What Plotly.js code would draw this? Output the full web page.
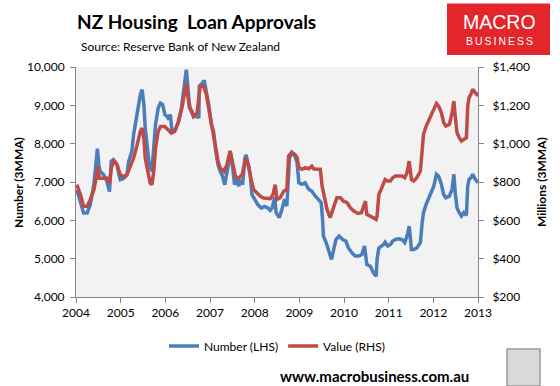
<!DOCTYPE html>
<html>
<head>
<meta charset="utf-8">
<script src="https://cdn.plot.ly/plotly-3.0.1.min.js"></script>
<style>html,body{margin:0;padding:0;background:#fff;}#chart{width:560px;height:386px;}</style>
</head>
<body>
<div id="chart"></div>
<script>
// ---- Data (decimal year) ----
const numberDates = [2004.02,2004.10,2004.17,2004.25,2004.32,2004.40,2004.45,2004.48,2004.51,2004.54,2004.62,2004.69,2004.75,2004.79,2004.84,2004.92,2004.96,2004.99,2005.07,2005.14,2005.18,2005.25,2005.29,2005.37,2005.44,2005.48,2005.52,2005.55,2005.59,2005.64,2005.70,2005.74,2005.78,2005.84,2005.89,2005.94,2005.99,2006.04,2006.08,2006.11,2006.15,2006.22,2006.30,2006.36,2006.41,2006.45,2006.47,2006.50,2006.54,2006.58,2006.63,2006.71,2006.75,2006.76,2006.80,2006.87,2006.92,2006.97,2007.03,2007.08,2007.13,2007.18,2007.23,2007.28,2007.33,2007.36,2007.42,2007.46,2007.51,2007.55,2007.60,2007.64,2007.69,2007.73,2007.78,2007.81,2007.85,2007.90,2007.94,2008.00,2008.07,2008.15,2008.22,2008.30,2008.35,2008.39,2008.45,2008.48,2008.55,2008.61,2008.67,2008.72,2008.75,2008.78,2008.84,2008.90,2008.95,2008.99,2009.06,2009.13,2009.21,2009.28,2009.36,2009.43,2009.49,2009.52,2009.54,2009.60,2009.66,2009.72,2009.77,2009.82,2009.89,2009.97,2010.04,2010.10,2010.18,2010.25,2010.33,2010.40,2010.46,2010.51,2010.59,2010.66,2010.72,2010.74,2010.78,2010.83,2010.89,2010.92,2010.98,2011.04,2011.09,2011.15,2011.22,2011.30,2011.36,2011.41,2011.46,2011.51,2011.56,2011.63,2011.71,2011.75,2011.78,2011.84,2011.90,2011.95,2012.01,2012.07,2012.12,2012.18,2012.23,2012.28,2012.36,2012.42,2012.46,2012.49,2012.53,2012.58,2012.63,2012.68,2012.74,2012.77,2012.80,2012.84,2012.88,2012.94,2013.00];
const numberValues = [6800,6450,6190,6190,6410,6930,7540,7870,7450,7280,7190,7020,6750,7540,7580,7450,7190,7060,7100,7190,7540,7800,8240,8840,9280,9410,9020,8410,7890,7450,7280,7800,8500,8930,9060,9020,8760,8710,8630,8760,8320,8365,8580,8930,9370,9710,9930,9540,9020,8840,8710,8710,8670,9500,9540,9650,9370,9020,8500,8320,7800,7450,7280,7150,6930,7100,7450,7760,7360,6930,7100,6890,7060,6930,7620,7710,7450,7190,6670,6540,6410,6320,6360,6320,6260,6320,6600,6200,6070,6280,6550,6370,6890,7630,7770,7680,7500,6980,6940,6980,6810,6760,6630,6550,6460,6020,5590,5420,5200,4980,5240,5500,5590,5500,5460,5280,5150,5070,5070,5110,5330,4850,4800,4630,4540,4980,5280,5330,5370,5430,5330,5370,5460,5500,5520,5500,5420,5590,5850,5240,5240,5280,5420,5940,6200,6420,6590,6720,6890,7200,7150,6940,6680,6590,6630,6810,7200,6720,6330,6200,6110,6200,6130,6890,7070,7110,7200,7070,6980];

const valueDates = [2004.02,2004.10,2004.17,2004.25,2004.32,2004.40,2004.45,2004.49,2004.52,2004.62,2004.69,2004.75,2004.79,2004.84,2004.92,2004.99,2005.07,2005.14,2005.22,2005.29,2005.37,2005.44,2005.48,2005.52,2005.55,2005.61,2005.66,2005.70,2005.74,2005.78,2005.84,2005.89,2005.99,2006.06,2006.13,2006.21,2006.28,2006.37,2006.43,2006.47,2006.50,2006.54,2006.60,2006.63,2006.71,2006.75,2006.78,2006.86,2006.92,2006.97,2007.03,2007.08,2007.13,2007.18,2007.23,2007.31,2007.38,2007.45,2007.51,2007.57,2007.64,2007.72,2007.75,2007.81,2007.87,2007.92,2007.98,2008.05,2008.13,2008.20,2008.28,2008.35,2008.41,2008.46,2008.50,2008.57,2008.65,2008.72,2008.76,2008.82,2008.90,2008.95,2008.99,2009.06,2009.13,2009.21,2009.28,2009.32,2009.40,2009.47,2009.51,2009.57,2009.62,2009.69,2009.77,2009.84,2009.92,2009.99,2010.07,2010.14,2010.22,2010.31,2010.39,2010.44,2010.48,2010.51,2010.59,2010.66,2010.72,2010.74,2010.78,2010.83,2010.89,2010.92,2010.98,2011.04,2011.09,2011.15,2011.22,2011.30,2011.36,2011.41,2011.46,2011.51,2011.56,2011.63,2011.71,2011.75,2011.78,2011.84,2011.90,2011.95,2012.01,2012.07,2012.12,2012.18,2012.23,2012.28,2012.36,2012.42,2012.46,2012.49,2012.53,2012.58,2012.63,2012.68,2012.74,2012.77,2012.80,2012.84,2012.88,2012.94,2013.00];
const valueValues = [786,734,673,673,708,760,820,881,820,820,820,794,873,908,890,838,829,838,890,925,995,1064,1081,1029,925,838,794,786,855,977,1064,1090,1090,1073,1055,1064,1105,1186,1256,1316,1256,1186,1169,1143,1160,1238,1299,1299,1256,1186,1108,1064,977,908,873,855,890,963,890,829,820,838,873,925,881,812,760,742,725,716,716,713,734,786,709,718,752,761,935,953,944,927,875,866,875,869,883,869,866,866,779,700,657,614,674,718,718,700,692,666,648,636,640,674,700,631,622,614,605,622,735,761,796,813,805,805,822,831,831,831,822,848,909,813,805,822,857,953,1049,1092,1127,1153,1179,1210,1196,1162,1110,1092,1101,1162,1222,1144,1057,1031,1014,1022,1031,1196,1240,1257,1284,1266,1249];

const seriesNames = ["Number (LHS)", "Value (RHS)"];
const yearTicks = [2004,2005,2006,2007,2008,2009,2010,2011,2012,2013];

// ---- Layout helpers (pixel -> paper) ----
const L = 76, R = 82, T = 67, B = 89, FW = 560, FH = 386;
const PW = FW - L - R, PH = FH - T - B;
const px = x => (x - L) / PW;
const py = y => (FH - B - y) / PH;

const FONT = "Lato, 'Open Sans', sans-serif";
const LOGOFONT = "'Liberation Sans', Arial, sans-serif";
const axisColor = "#868686";

const traces = [
  {x: numberDates, y: numberValues, name: seriesNames[0], type: "scatter", mode: "lines",
   line: {color: "#4a7ebb", width: 3.5}, yaxis: "y"},
  {x: valueDates, y: valueValues, name: seriesNames[1], type: "scatter", mode: "lines",
   line: {color: "#be4b48", width: 3.5}, yaxis: "y2"}
];

const layout = {
  width: FW, height: FH,
  margin: {l: L, r: R, t: T, b: B, pad: 0},
  paper_bgcolor: "#ffffff",
  plot_bgcolor: "#f2f2f2",
  font: {family: FONT, size: 12, color: "#000"},
  showlegend: true,
  legend: {orientation: "h", x: px(164), xanchor: "left", y: py(346), yanchor: "middle",
           font: {family: FONT, size: 12, color: "#000"}, bgcolor: "rgba(0,0,0,0)",
           itemwidth: 30, tracegroupgap: 0},
  xaxis: {range: [2004, 2013], tickvals: yearTicks, ticktext: yearTicks.map(String),
          showgrid: false, zeroline: false, showline: true, linecolor: axisColor, linewidth: 1,
          ticks: "outside", ticklen: 5, tickcolor: axisColor, tickfont: {size: 12}},
  yaxis: {range: [4000, 10000], dtick: 1000, tick0: 4000, tickformat: ",d",
          showgrid: false, zeroline: false, showline: true, linecolor: axisColor, linewidth: 1,
          ticks: "outside", ticklen: 5, tickcolor: axisColor, tickfont: {size: 12},
          ticklabelstandoff: 3},
  yaxis2: {range: [200, 1400], dtick: 200, tick0: 200, tickformat: ",d", tickprefix: "$",
           overlaying: "y", side: "right",
           showgrid: false, zeroline: false, showline: true, linecolor: axisColor, linewidth: 1,
           ticks: "outside", ticklen: 5, tickcolor: axisColor, tickfont: {size: 12},
           ticklabelstandoff: 6},
  shapes: [
    {type: "rect", xref: "paper", yref: "paper", x0: px(447), x1: px(550), y0: py(55), y1: py(3.5),
     fillcolor: "#e3262b", line: {width: 0}, layer: "above"},
    {type: "rect", xref: "paper", yref: "paper", x0: px(507), x1: px(540), y0: py(386), y1: py(349),
     fillcolor: "#d9d9d9", line: {color: "#9a9a9a", width: 1.5}, layer: "above"}
  ],
  annotations: [
    {text: "<b>NZ Housing  Loan Approvals</b>", xref: "paper", yref: "paper", x: px(75), y: py(21),
     xanchor: "left", yanchor: "middle", showarrow: false, font: {family: FONT, size: 19, color: "#000"}},
    {text: "Source: Reserve Bank of New Zealand", xref: "paper", yref: "paper", x: px(79), y: py(46),
     xanchor: "left", yanchor: "middle", showarrow: false, font: {family: FONT, size: 12, color: "#000"}},
    {text: "<b>Number (3MMA)</b>", xref: "paper", yref: "paper", x: px(18), y: py(182),
     xanchor: "center", yanchor: "middle", textangle: -90, showarrow: false, font: {family: FONT, size: 12, color: "#000"}},
    {text: "<b>Millions (3MMA)</b>", xref: "paper", yref: "paper", x: px(541), y: py(182),
     xanchor: "center", yanchor: "middle", textangle: -90, showarrow: false, font: {family: FONT, size: 12, color: "#000"}},
    {text: "MACRO", xref: "paper", yref: "paper", x: px(499.5), y: py(22),
     xanchor: "center", yanchor: "middle", showarrow: false,
     font: {family: LOGOFONT, size: 19.5, color: "#fff", weight: 300}},
    {text: "<span style=\"letter-spacing:2px\">BUSINESS</span>", xref: "paper", yref: "paper", x: px(500.5), y: py(41),
     xanchor: "center", yanchor: "middle", showarrow: false,
     font: {family: LOGOFONT, size: 10.5, color: "#fff"}},
    {text: "<b>www.macrobusiness.com.au</b>", xref: "paper", yref: "paper", x: px(471), y: py(376),
     xanchor: "right", yanchor: "middle", showarrow: false, font: {family: FONT, size: 15, color: "#000"}}
  ]
};

Plotly.newPlot("chart", traces, layout, {staticPlot: true, displayModeBar: false});
</script>
</body>
</html>
